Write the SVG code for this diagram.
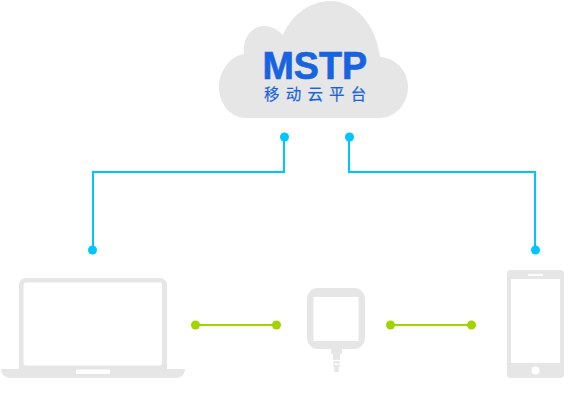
<svg xmlns="http://www.w3.org/2000/svg" width="581" height="416" viewBox="0 0 581 416">
<style>
.dev{fill:#e6e6e6}
.hole{fill:#fff}
.blue{fill:none;stroke:#00c6ff;stroke-width:2}
.green{fill:none;stroke:#a2d400;stroke-width:2}
.bd{fill:#00c6ff}
.gd{fill:#a2d400}
text{font-family:"Liberation Sans","Noto Sans CJK SC",sans-serif;fill:#1763e0;stroke:#1763e0}
</style>
<rect width="581" height="416" fill="#fff"/>
<g id="cloud">
<path class="dev" d="M246 118C231 118 219 104 219 87C219 70 231 56 244 54C242 38 252 26 264 26C271 26 277 29 283 35C290 18 308 1 330 1C356 1 376 25 380 57C396 58 408 71 408 87C408 104 395 118 380 118Z"/>
<text x="262.500" y="79" font-size="39" font-weight="700" stroke-width="0.7" textLength="104.500" lengthAdjust="spacingAndGlyphs">MSTP</text>
<text x="264" y="99.500" font-size="15.500" letter-spacing="6.200" stroke-width="0.2">移动云平台</text>
</g>
<g id="laptop">
<path class="dev" d="M25 278H160A7 7 0 0 1 167 285V369H185C185 374 181 378 175 378H11C5 378 1 374 1 369H19V285A7 7 0 0 1 25 278Z"/>
<rect class="hole" x="23.500" y="282.500" width="138.500" height="83" rx="2"/>
<rect class="hole" x="76" y="369.500" width="34" height="4.500"/>
</g>
<g id="tablet">
<path class="dev" d="M318 288H354A11 11 0 0 1 365 299V338A11 11 0 0 1 354 349H342V353L340 355V366L338.700 367V372H334.300V367L333 366V355L331 353V349H318A11 11 0 0 1 307 338V299A11 11 0 0 1 318 288Z"/>
<rect class="hole" x="313.500" y="297" width="45" height="44"/>
<rect class="hole" x="332" y="360" width="9" height="1.200"/>
<rect class="hole" x="332" y="363.500" width="9" height="1.200"/>
</g>
<g id="phone">
<rect class="dev" x="507" y="270" width="57" height="108" rx="4"/>
<rect class="hole" x="511" y="279" width="49" height="84"/>
<rect class="hole" x="528" y="274" width="15" height="2"/>
<circle class="hole" cx="535.500" cy="370.500" r="4"/>
</g>
<g id="connectors">
<path class="blue" d="M284 137V172H93V250"/>
<path class="blue" d="M349 137V172H535V250"/>
<path class="green" d="M196 325H277"/>
<path class="green" d="M390 325H472"/>
<circle class="bd" cx="284.500" cy="137" r="4.500"/>
<circle class="bd" cx="349.500" cy="137" r="4.500"/>
<circle class="bd" cx="92.500" cy="250" r="4.500"/>
<circle class="bd" cx="535.500" cy="250" r="4.500"/>
<circle class="gd" cx="195.500" cy="325" r="4.500"/>
<circle class="gd" cx="276.500" cy="325" r="4.500"/>
<circle class="gd" cx="390.500" cy="325" r="4.500"/>
<circle class="gd" cx="471.500" cy="325" r="4.500"/>
</g>
</svg>
